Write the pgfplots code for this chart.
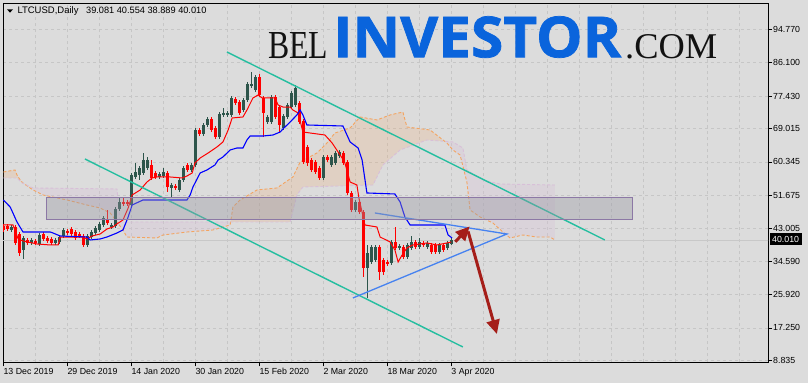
\documentclass[border=0pt]{standalone}
\usepackage{fontspec}
\setmainfont{Liberation Sans}
\newfontfamily\seriffont{Liberation Serif}
\newfontfamily\logofont{Open Sans}[BoldFeatures={FakeBold=1.3}]
\usepackage{pgfplots}
\usepackage{pgfplotstable}
\pgfplotsset{compat=1.18}
\usetikzlibrary{arrows.meta}

\definecolor{bg}{RGB}{220,220,220}
\definecolor{gridc}{RGB}{198,198,198}
\definecolor{bullc}{RGB}{45,85,75}
\definecolor{bearc}{RGB}{255,0,0}
\definecolor{tenkan}{RGB}{255,0,0}
\definecolor{kijun}{RGB}{0,0,255}
\definecolor{sandy}{RGB}{244,164,96}
\definecolor{thistle}{RGB}{216,191,216}
\definecolor{chan}{RGB}{38,190,160}
\definecolor{tri}{RGB}{70,130,240}
\definecolor{arr}{RGB}{165,30,25}
\definecolor{boxc}{RGB}{150,150,162}
\definecolor{boxedge}{RGB}{140,120,165}
\definecolor{logoblue}{RGB}{10,100,220}

\pgfplotstableread{
d O H L C
2 42.67 43.97 42.15 43.45
5 37.48 41.11 35.14 40.60
7 39.30 40.60 38.78 40.08
9 39.04 41.89 38.52 41.37
13 39.30 40.60 38.78 40.08
14 39.56 41.37 39.04 40.85
15 41.11 43.19 40.60 42.67
21 38.78 41.63 38.26 41.11
22 40.85 42.67 40.34 42.15
23 41.89 43.71 41.37 43.19
24 42.67 44.75 42.15 44.23
25 43.97 46.31 43.45 45.79
27 43.45 44.49 42.93 43.97
28 43.71 48.64 43.19 48.12
29 48.12 50.98 47.60 49.94
32 49.16 57.47 48.64 56.95
33 56.43 60.07 55.91 57.73
34 56.95 59.29 55.65 58.77
35 57.47 62.66 56.95 60.84
36 58.77 61.62 58.25 60.84
39 56.43 57.73 55.91 57.21
40 56.69 58.77 56.17 57.73
42 53.58 54.87 51.24 54.35
44 53.06 56.17 52.54 55.65
45 55.65 59.29 55.13 58.77
47 58.25 60.07 57.73 59.55
48 59.55 69.15 59.03 68.63
50 67.59 70.45 67.07 69.93
51 69.93 72.01 69.41 71.49
54 66.81 73.30 66.30 72.79
55 72.53 74.34 72.01 73.05
56 72.53 73.56 72.01 73.05
57 72.53 77.46 72.01 76.94
60 73.82 76.94 73.30 76.42
61 76.42 81.09 75.90 80.57
62 80.05 83.69 79.54 80.57
63 79.02 82.91 78.50 82.39
66 70.71 72.53 70.19 72.01
67 70.71 77.72 70.19 77.20
70 69.15 72.79 68.63 72.27
71 72.01 75.64 71.49 75.12
72 74.60 78.76 74.08 78.24
73 75.12 80.31 74.60 79.54
80 56.17 62.14 55.65 61.62
82 59.55 62.14 59.03 61.62
83 60.07 63.18 59.55 62.66
84 61.88 63.44 61.36 62.92
88 47.86 50.46 47.34 49.94
91 32.81 38.78 25.02 36.70
92 34.36 38.78 33.85 38.26
93 34.88 38.78 34.36 38.26
97 34.11 40.08 33.59 39.56
99 38.00 39.04 37.48 38.52
101 35.66 39.30 35.14 38.78
102 38.00 41.11 37.48 39.56
104 38.26 40.60 37.74 39.56
106 38.26 39.82 37.74 39.30
109 36.96 39.30 36.44 38.78
111 38.00 39.82 37.48 39.30
112 39.081 40.554 38.889 40.010
}\bulltab

\pgfplotstableread{
d O H L C
0 43.71 44.23 42.15 42.67
1 43.71 44.23 42.41 42.93
3 43.45 43.97 38.78 39.30
4 41.63 42.15 35.92 36.70
6 40.08 40.60 38.78 39.30
8 39.82 40.34 38.78 39.30
10 41.63 42.15 39.82 40.34
11 40.60 41.11 39.30 39.82
12 40.34 40.85 38.78 39.30
16 42.41 42.93 41.37 41.89
17 42.93 43.45 41.11 41.63
18 42.15 42.67 40.08 40.60
19 41.63 42.15 40.60 41.11
20 41.11 41.63 38.26 38.78
26 45.53 47.86 43.97 44.49
30 49.94 51.24 48.90 49.42
31 49.94 50.46 48.90 49.42
37 59.55 60.84 55.65 56.17
38 57.47 57.99 55.91 56.43
41 57.47 57.99 52.54 53.83
43 54.09 54.61 53.06 53.58
46 59.55 60.07 57.73 58.25
49 68.63 69.15 67.07 67.59
52 71.49 72.01 68.11 68.63
53 69.15 69.67 66.30 66.81
58 76.68 77.20 75.12 75.64
59 75.90 76.42 72.53 73.05
64 82.39 83.17 77.20 77.72
65 76.94 77.46 66.81 73.05
68 77.20 77.72 71.49 72.01
69 74.60 75.12 67.85 69.93
74 75.64 76.16 70.19 70.71
75 70.97 71.49 59.81 60.32
76 64.22 64.74 59.29 60.07
77 60.84 61.36 57.73 58.25
78 60.32 60.84 57.21 57.73
79 58.77 59.29 55.65 56.17
81 61.62 62.14 60.32 60.84
85 62.66 63.18 59.55 60.07
86 60.32 60.84 51.76 52.28
87 52.28 52.80 47.34 47.86
89 49.94 50.46 46.83 47.34
90 47.34 47.86 30.47 32.81
94 38.26 38.78 29.69 31.77
95 34.88 35.40 30.99 31.77
96 34.36 34.88 33.33 33.85
98 39.56 43.45 37.48 38.00
100 38.26 38.78 35.14 35.66
103 39.56 40.08 37.74 38.26
105 39.30 39.82 38.26 38.78
107 38.78 39.30 36.44 36.96
108 38.78 39.30 36.44 36.96
110 38.78 39.30 36.96 37.48
}\beartab

\begin{document}
\begin{tikzpicture}[x=1pt,y=1pt]
\fill[bg] (0,0) rectangle (808,383);
\begin{axis}[
  at={(3pt,20.7pt)}, anchor=south west,
  scale only axis, width=765pt, height=359.3pt,
  xmin=-0.1, xmax=191.2, ymin=8.32, ymax=101.6,
  axis line style={black, line width=1pt},
  xtick={0,16,...,112},
  xticklabels={13 Dec 2019, 29 Dec 2019, 14 Jan 2020, 30 Jan 2020, 15 Feb 2020, 2 Mar 2020, 18 Mar 2020, 3 Apr 2020},
  minor xtick={8,24,40,56,72,88,104,120,128,136,144,152,160,168,176,184},
  ytick={8.835,17.25,25.92,34.59,43.005,51.675,60.345,69.015,77.43,86.1,94.77},
  yticklabels={8.835,17.250,25.920,34.590,43.005,51.675,60.345,69.015,77.430,86.100,94.770},
  xmajorgrids, xminorgrids, ymajorgrids,
  major grid style={dash pattern=on 3pt off 3pt, gridc, line width=0.8pt},
  minor grid style={dash pattern=on 3pt off 3pt, gridc, line width=0.8pt},
  minor tick length=0pt, major tick length=4pt, tick align=outside,
  xtick pos=left, ytick pos=right, yticklabel pos=right,
  tick style={black, line width=0.8pt},
  /pgf/number format/assume math mode=true,
  ticklabel style={font=\fontsize{8.8}{10}\selectfont},
  xticklabel style={anchor=north west, inner sep=0pt, yshift=-1.5pt},
  yticklabel style={anchor=west, inner sep=0pt, xshift=1pt},
  clip=true,
]
% Ichimoku cloud (Senkou span A above B: sandy; B above A: thistle)
\addplot[fill=sandy, fill opacity=0.2, draw=none] coordinates {
(0,57.73) (2.9,58.25) (3.4,56.95) (4.2,55.65) (4.9,54.87) (5.5,54.45) (4.7,54.87) (3.4,56.17) (0,56.17)} -- cycle;
\addplot[fill=thistle, fill opacity=0.28, draw=none] coordinates {
(5.5,54.45) (7.4,53.58) (28.4,53.32) (29.2,44.75) (56.82,44.75) (56.7,43.97) (52.4,42.67) (45.9,42.15) (39.9,41.37) (38.4,40.60) (30.9,40.85) (29.9,42.67) (28.4,44.75) (26.7,47.09) (24.2,48.38) (20.9,49.16) (15.9,50.46) (9.9,51.76) (7.4,53.06)} -- cycle;
\addplot[fill=sandy, fill opacity=0.2, draw=none] coordinates {
(56.82,44.75) (57.4,48.64) (59.2,50.46) (63.4,53.06) (68.4,53.58) (72.4,56.43) (74.2,60.32) (78.4,62.66) (80.9,65.26) (82.9,67.85) (86.7,69.15) (89.2,72.01) (93.4,71.23) (96.7,72.53) (99.9,73.30) (100.9,69.41) (106.7,68.63) (110.3,65.71) (105.9,66.04) (99.2,63.44) (94.9,59.55) (92.4,54.35) (74.9,53.83) (73.4,51.76) (71.7,44.75)} -- cycle;
\addplot[fill=thistle, fill opacity=0.28, draw=none] coordinates {
(110.3,65.71) (112.4,65.52) (114.9,63.96) (115.9,58.25) (119.9,55.65) (124.2,54.61) (137.9,54.35) (137.9,40.08) (136.7,40.85) (133.4,40.85) (129.9,41.37) (126.7,40.60) (124.9,42.15) (122.4,44.49) (119.2,46.05) (116.7,47.86) (115.9,55.13) (114.2,62.14) (112.4,63.44) (110.9,65.26)} -- cycle;
% Senkou span A and B
\addplot[sandy, line width=0.9pt, dash pattern=on 3pt off 2pt] coordinates {
(0,57.73) (2.9,58.25) (3.4,56.95) (4.2,55.65) (4.9,54.87) (7.4,53.06) (9.9,51.76) (15.9,50.46) (20.9,49.16) (24.2,48.38) (26.7,47.09) (28.4,44.75) (29.9,42.67) (30.9,40.85) (38.4,40.60) (39.9,41.37) (45.9,42.15) (52.4,42.67) (56.7,43.97) (57.4,48.64) (59.2,50.46) (63.4,53.06) (68.4,53.58) (72.4,56.43) (74.2,60.32) (78.4,62.66) (80.9,65.26) (82.9,67.85) (86.7,69.15) (89.2,72.01) (93.4,71.23) (96.7,72.53) (99.9,73.30) (100.9,69.41) (106.7,68.63) (110.9,65.26) (112.4,63.44) (114.2,62.14) (115.9,55.13) (116.7,47.86) (119.2,46.05) (122.4,44.49) (124.9,42.15) (126.7,40.60) (129.9,41.37) (133.4,40.85) (136.7,40.85) (137.9,40.08)};
\addplot[thistle, line width=0.9pt, dash pattern=on 3pt off 2pt] coordinates {
(0,56.17) (3.4,56.17) (4.7,54.87) (7.4,53.58) (28.4,53.32) (29.2,44.75) (71.7,44.75) (73.4,51.76) (74.9,53.83) (92.4,54.35) (94.9,59.55) (99.2,63.44) (105.9,66.04) (112.4,65.52) (114.9,63.96) (115.9,58.25) (119.9,55.65) (124.2,54.61) (137.9,54.35)};
% bid line
\addplot[color={rgb,255:red,200;green,200;blue,200}, line width=0.8pt] coordinates {(-1,40.01) (192,40.01)};
% candles: wicks
\addplot[draw=none, mark=none, error bars/.cd, y dir=plus, y explicit, error mark=none,
  error bar style={line width=1pt, draw=bullc, solid}]
  table[x=d, y=L, y error expr=\thisrow{H}-\thisrow{L}] {\bulltab};
\addplot[draw=none, mark=none, error bars/.cd, y dir=plus, y explicit, error mark=none,
  error bar style={line width=1pt, draw=bearc, solid}]
  table[x=d, y=L, y error expr=\thisrow{H}-\thisrow{L}] {\beartab};
% candles: bodies
\addplot[draw=none, mark=none, error bars/.cd, y dir=plus, y explicit, error mark=none,
  error bar style={line width=3pt, draw=bullc, solid}]
  table[x=d, y=O, y error expr=\thisrow{C}-\thisrow{O}] {\bulltab};
\addplot[draw=none, mark=none, error bars/.cd, y dir=plus, y explicit, error mark=none,
  error bar style={line width=3pt, draw=bearc, solid}]
  table[x=d, y=C, y error expr=\thisrow{O}-\thisrow{C}] {\beartab};
% Tenkan / Kijun
\addplot[tenkan, line width=1pt] coordinates {
(0,43.97) (2.4,43.97) (3.7,40.34) (4.9,39.82) (8.4,39.04) (11.7,38.78) (13.7,38.78) (14.2,40.85) (19.9,40.85) (20.9,40.34) (22.2,41.11) (24.2,41.63) (25.9,42.93) (27.4,43.45) (28.4,44.23) (29.9,45.27) (31.2,48.38) (32.2,51.76) (34.2,53.06) (35.9,55.13) (37.2,56.17) (38.4,56.43) (41.7,56.43) (44.7,56.17) (45.9,56.69) (47.2,57.47) (47.9,60.07) (49.2,61.36) (51.2,62.66) (53.4,64.22) (54.9,65.52) (56.2,68.63) (57.2,71.75) (59.9,72.01) (60.9,73.82) (62.4,76.94) (63.7,77.72) (64.7,76.94) (67.9,76.94) (68.7,75.12) (69.9,74.60) (71.7,74.60) (72.4,73.82) (73.7,73.05) (74.9,68.11) (76.7,67.85) (80.4,67.33) (82.2,65.26) (84.7,61.36) (85.4,60.07) (86.7,55.13) (88.4,54.35) (88.9,50.98) (90.4,43.97) (93.4,43.45) (94.2,40.85) (96.7,39.56) (97.9,37.48) (98.7,34.36) (99.7,36.18) (100.9,38.00) (102.4,38.78) (105.9,39.30) (108.4,38.78) (110.9,39.30) (112,39.56)};
\addplot[kijun, line width=1.1pt] coordinates {
(0,50.46) (1.7,48.64) (3.4,44.75) (4.9,42.15) (11.7,42.15) (12.4,41.89) (14.2,41.11) (20.9,40.85) (21.7,40.08) (24.2,40.34) (25.9,40.85) (28.4,41.89) (29.9,42.67) (31.2,46.05) (32.2,49.16) (34.9,50.46) (45.9,50.46) (46.7,51.76) (47.4,53.83) (49.2,57.47) (50.9,58.25) (52.9,59.55) (53.7,60.84) (54.9,61.62) (56.7,63.44) (58.4,63.96) (59.9,63.96) (60.9,66.04) (61.7,67.07) (64.9,67.07) (67.4,67.33) (69.2,68.11) (69.9,68.89) (71.7,70.71) (73.4,72.53) (74.2,73.82) (74.9,72.53) (75.9,69.93) (84.9,69.67) (86.7,65.52) (88.7,63.96) (89.7,60.84) (90.9,52.28) (97.9,52.02) (99.2,49.94) (100.4,46.05) (101.7,43.97) (110.4,43.97) (111.2,41.37) (112.2,40.60)};
% channel
\addplot[chan, line width=1.4pt] coordinates {(55.9,88.88) (150.4,40.08)};
\addplot[chan, line width=1.4pt] coordinates {(20.4,61.10) (114.9,12.30)};
% triangle
\addplot[tri, line width=1.3pt] coordinates {(92.9,47.09) (125.9,41.63) (87.4,25.02)};
% zone box
\addplot[draw=boxedge, line width=1pt, fill=boxc, fill opacity=0.38] coordinates {(10.7,45.45) (157.4,45.45) (157.4,51.16) (10.7,51.16)} -- cycle;
% arrows
\addplot[arr, line width=3pt, -{Triangle[length=14pt,width=13pt]}] coordinates {(113.0,39.6) (116.6,43.6)};
\addplot[arr, line width=3pt, -{Triangle[length=14pt,width=13pt]}] coordinates {(116.2,42.3) (123.4,15.67)};
\end{axis}
% header
\fill[black] (7,373.7) -- (13,373.7) -- (10,370.3) -- cycle;
\node[anchor=base west, inner sep=0pt, font=\fontsize{9.5}{11}\selectfont] at (17.3,369) {LTCUSD,Daily};
\node[anchor=base west, inner sep=0pt, font=\fontsize{9.2}{11}\selectfont] at (86,369) {39.081 40.554 38.889 40.010};
% logo
\node[anchor=south west, inner sep=0pt, text=black!93] at (268,324) {\resizebox{60pt}{26pt}{\seriffont BEL}};
\node[anchor=south west, inner sep=0pt, text=logoblue] at (333,325) {\resizebox{288pt}{41pt}{\logofont\bfseries INVESTOR}};
\node[anchor=south west, inner sep=0pt, text=black!93] at (625,324) {\resizebox{92pt}{24pt}{\seriffont .COM}};
% price label
\node[anchor=west, fill=black, text=white, inner xsep=2.5pt, inner ysep=0pt, minimum height=12pt, font=\fontsize{8.8}{10}\selectfont] at (769.5,144) {40.010};
\pgfresetboundingbox
\useasboundingbox (0,0) rectangle (808,383);
\end{tikzpicture}
\end{document}
